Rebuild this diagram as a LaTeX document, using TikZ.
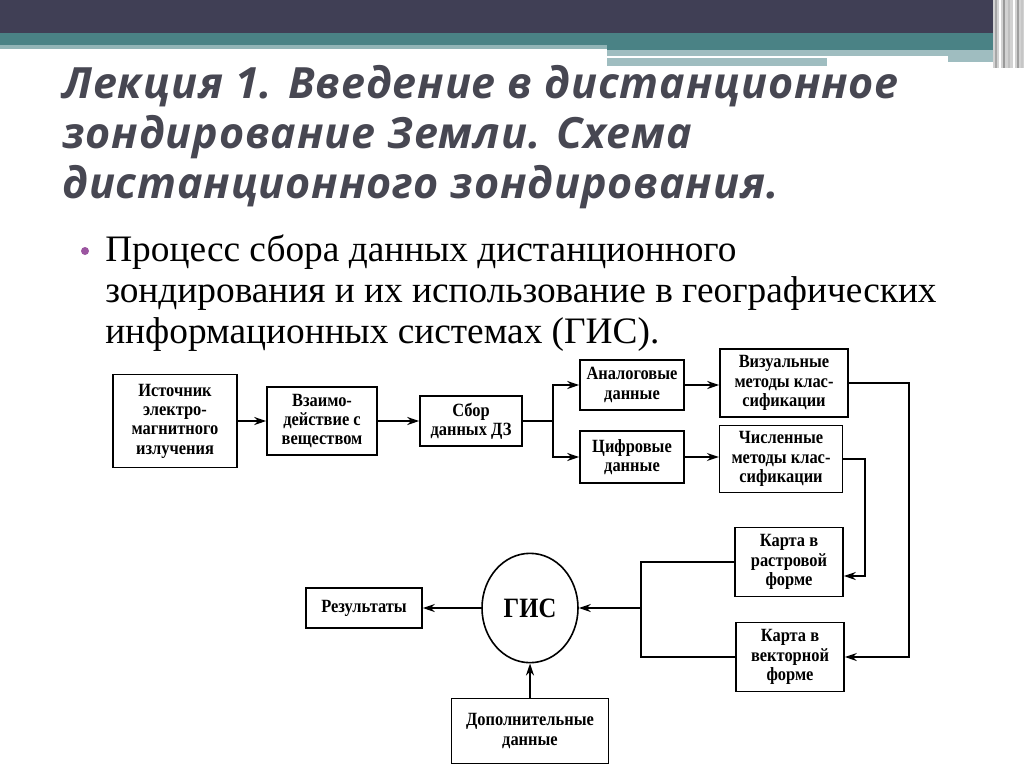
\documentclass[tikz,border=0pt]{standalone}
\usepackage{fontspec}
\setmainfont{Liberation Serif}
\newfontfamily\titlefont{Open Sans}[LetterSpace=2]
\newfontfamily\diagfont{Liberation Serif}[FakeStretch=0.88]
\usetikzlibrary{arrows.meta,positioning,shapes.geometric}
\definecolor{barDark}{HTML}{403F55}
\definecolor{barTeal}{HTML}{4A8285}
\definecolor{barLight}{HTML}{9FBDC0}
\definecolor{titleGrey}{HTML}{474752}
\definecolor{bulletPurple}{HTML}{9B55A0}

\begin{document}
\begin{tikzpicture}[x=0.75pt, y=-0.75pt, >={Stealth[length=9pt,width=6pt]},
  blk/.style={draw, line width=1.2pt, align=center, inner sep=2pt,
    font=\diagfont\bfseries\fontsize{14}{14.5}\selectfont},
  lnk/.style={line width=1.2pt}]
\useasboundingbox (0,0) rectangle (1024,768);

% slide header bars
\fill[barDark] (0,0) rectangle (1024,33);
\fill[barTeal] (0,33) rectangle (995,45);
\fill[barTeal!60!white] (0,45) rectangle (607,49);
\fill[barTeal] (607,45) rectangle (995,50);
\fill[barLight] (607,50) rectangle (1000,56);
\fill[barLight] (607,58) rectangle (827,66);
\fill[barLight] (948,56) rectangle (1000,62);
\fill[gray!35] (993,0) rectangle (1024,68);
\foreach \xx/\cc in {995/gray!70, 999/white, 1003/gray!80, 1008/gray!50, 1013/white, 1017/gray!75, 1021/gray!45}
  \fill[\cc] (\xx,0) rectangle ++(2,68);

% title and bullet
\node[anchor=base west, align=left, text=titleGrey, inner sep=0pt,
  font=\titlefont\bfseries\itshape\fontsize{32.3}{37.5}\selectfont] (title) at (62,198)
  {Лекция 1. Введение в дистанционное\\зондирование Земли. Схема\\дистанционного зондирования.};
\fill[bulletPurple] (85,251) circle (4);
\node[anchor=base west, align=left, inner sep=0pt,
  font=\fontsize{28}{30.75}\selectfont] (intro) at (105,343)
  {Процесс сбора данных дистанционного\\зондирования и их использование в географических\\информационных системах (ГИС).};

% diagram
\node[blk, minimum width=93pt, minimum height=70pt] (src) at (175,421) {Источник\\электро-\\магнитного\\излучения};
\node[blk, minimum width=82.5pt, minimum height=51pt] (inter) at (322,421) {Взаимо-\\действие с\\веществом};
\node[blk, minimum width=76.5pt, minimum height=37.5pt] (coll) at (471,421) {Сбор\\данных ДЗ};
\node[blk, minimum width=78pt, minimum height=37.5pt] (analog) at (632,385) {Аналоговые\\данные};
\node[blk, minimum width=78pt, minimum height=39pt] (digit) at (632,457) {Цифровые\\данные};
\node[blk, minimum width=96pt, minimum height=51pt] (visual) at (784,383) {Визуальные\\методы клас-\\сификации};
\node[blk, minimum width=92pt, minimum height=50pt] (numer) at (781,459) {Численные\\методы клас-\\сификации};
\node[blk, minimum width=81pt, minimum height=52pt] (raster) at (789,562) {Карта в\\растровой\\форме};
\node[blk, minimum width=81pt, minimum height=52pt] (vector) at (790,657) {Карта в\\векторной\\форме};
\node[blk, draw, ellipse, minimum width=72pt, minimum height=82pt,
  font=\diagfont\bfseries\fontsize{21}{24}\selectfont] (gis) at (530,608) {ГИС};
\node[blk, minimum width=87pt, minimum height=30pt] (res) at (364,608) {Результаты};
\node[blk, minimum width=118pt, minimum height=49pt] (extra) at (530,731) {Дополнительные\\данные};

\coordinate (split) at (553,421);
\coordinate (busOuter) at (909,0);
\coordinate (busInner) at (865,0);
\coordinate (merge) at (641,608);

\draw[lnk,->] (src) -- (inter);
\draw[lnk,->] (inter) -- (coll);
\draw[lnk] (coll) -- (split);
\draw[lnk,->] (split) |- (analog.west);
\draw[lnk,->] (split) |- (digit.west);
\draw[lnk,->] (analog.east) -- (analog.east -| visual.west);
\draw[lnk,->] (digit.east) -- (digit.east -| numer.west);
\draw[lnk,->] (visual.east) -- (visual.east -| busOuter) |- (vector.east);
\draw[lnk,->] (numer.east) -- (numer.east -| busInner) |- ([yshift=-10.5pt]raster.east);
\draw[lnk] (raster.west) -| (merge) |- (vector.west);
\draw[lnk,->] (merge) -- (gis);
\draw[lnk,->] (gis) -- (res);
\draw[lnk,->] (extra) -- (gis);
\end{tikzpicture}
\end{document}
